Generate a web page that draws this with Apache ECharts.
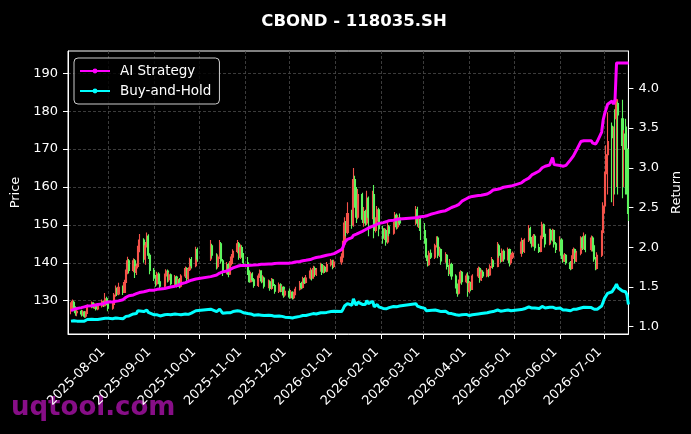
<!DOCTYPE html>
<html>
<head>
<meta charset="utf-8">
<title>CBOND - 118035.SH</title>
<script src="https://cdn.jsdelivr.net/npm/echarts@6/dist/echarts.min.js"></script>
<style>
  html, body { margin: 0; padding: 0; background: #000; }
  #chart { width: 691px; height: 434px; }
</style>
</head>
<body>
<div id="chart"></div>
<script>
// trading days per month (exchange holidays left out)
const tradingDays = [
  ['2025-07', [7, 8, 9, 10, 11, 14, 15, 16, 17, 18, 21, 22, 23, 24, 25, 28, 29, 30, 31]],
  ['2025-08', [1, 4, 5, 6, 7, 8, 11, 12, 13, 14, 15, 18, 19, 20, 21, 22, 25, 26, 27, 28, 29]],
  ['2025-09', [1, 2, 3, 4, 5, 8, 9, 10, 11, 12, 15, 16, 17, 18, 19, 22, 23, 24, 25, 26, 29, 30]],
  ['2025-10', [9, 10, 13, 14, 15, 16, 17, 20, 21, 22, 23, 24, 27, 28, 29, 30, 31]],
  ['2025-11', [3, 4, 5, 6, 7, 10, 11, 12, 13, 14, 17, 18, 19, 20, 21, 24, 25, 26, 27, 28]],
  ['2025-12', [1, 2, 3, 4, 5, 8, 9, 10, 11, 12, 15, 16, 17, 18, 19, 22, 23, 24, 25, 26, 29, 30, 31]],
  ['2026-01', [5, 6, 7, 8, 9, 12, 13, 14, 15, 16, 19, 20, 21, 22, 23, 26, 27, 28, 29, 30]],
  ['2026-02', [2, 3, 4, 5, 6, 9, 10, 11, 12, 13, 24, 25, 26, 27]],
  ['2026-03', [2, 3, 4, 5, 6, 9, 10, 11, 12, 13, 16, 17, 18, 19, 20, 23, 24, 25, 26, 27, 30, 31]],
  ['2026-04', [1, 2, 3, 7, 8, 9, 10, 13, 14, 15, 16, 17, 20, 21, 22, 23, 24, 27, 28, 29, 30]],
  ['2026-05', [6, 7, 8, 11, 12, 13, 14, 15, 18, 19, 20, 21, 22, 25, 26, 27, 28, 29]],
  ['2026-06', [1, 2, 3, 4, 5, 8, 9, 10, 11, 12, 15, 16, 17, 18, 22, 23, 24, 25, 26, 29, 30]],
  ['2026-07', [1, 2, 3, 6, 7, 8, 9, 10, 13, 14, 15, 16, 17]]
];

const monthTicks = ['2025-08-01', '2025-09-01', '2025-10-01', '2025-11-01', '2025-12-01', '2026-01-01',
  '2026-02-01', '2026-03-01', '2026-04-01', '2026-05-01', '2026-06-01', '2026-07-01'];
const priceTicks = [130, 140, 150, 160, 170, 180, 190];
const returnTicks = [1.0, 1.5, 2.0, 2.5, 3.0, 3.5, 4.0];

// [open, close, low, high]
const ohlc = [
  // 2025-07
  [127.5, 128.5, 126.4, 129.6], [128.5, 129.8, 127.8, 130.3], [129.6, 128.0, 127.2, 130.0], [128.0, 126.8, 126.0, 128.5],
  [126.8, 127.2, 125.9, 127.9], [127.2, 126.5, 125.8, 127.6], [126.5, 127.0, 126.0, 127.5], [127.0, 125.9, 125.5, 127.3],
  [125.9, 126.8, 125.5, 127.2], [126.8, 128.6, 126.5, 129.0], [128.6, 129.4, 128.0, 129.8], [129.4, 128.3, 127.9, 129.6],
  [128.3, 128.9, 127.8, 129.3], [128.9, 127.8, 127.4, 129.1], [127.8, 128.6, 127.5, 129.0], [128.6, 129.8, 128.2, 130.3],
  [129.8, 128.7, 128.3, 130.0], [128.7, 130.5, 128.5, 132.0], [130.5, 129.2, 128.8, 131.0],
  // 2025-08
  [129.2, 128.0, 127.2, 129.6], [128.0, 129.0, 127.6, 129.5], [129.0, 131.5, 128.8, 132.0], [131.5, 133.0, 131.0, 134.0],
  [133.0, 131.8, 131.2, 133.5], [131.8, 133.5, 131.4, 134.7], [133.5, 132.2, 131.5, 134.0], [132.2, 134.8, 132.0, 135.5],
  [134.8, 137.5, 134.5, 138.2], [137.5, 140.5, 137.0, 141.6], [140.5, 138.0, 137.2, 141.0], [138.0, 140.5, 137.5, 141.2],
  [140.5, 137.5, 136.0, 141.0], [137.5, 139.0, 136.8, 139.8], [139.0, 143.5, 138.5, 144.5], [143.5, 146.0, 142.8, 147.6],
  [146.0, 141.0, 140.0, 146.5], [141.0, 144.5, 139.5, 145.5], [144.5, 147.0, 144.0, 148.0], [147.0, 142.0, 141.0, 147.5],
  [142.0, 138.0, 137.0, 142.5],
  // 2025-09
  [138.0, 136.0, 135.2, 138.6], [136.0, 134.5, 133.7, 136.8], [134.5, 137.0, 134.0, 137.6], [137.0, 135.0, 134.3, 137.5],
  [135.0, 133.8, 133.2, 135.6], [133.8, 136.5, 133.5, 137.2], [136.5, 137.8, 136.0, 138.3], [137.8, 135.5, 134.8, 138.2],
  [135.5, 136.8, 135.0, 137.5], [136.8, 134.5, 134.0, 137.2], [134.5, 136.2, 134.0, 136.8], [136.2, 134.0, 133.5, 136.6],
  [134.0, 135.5, 133.6, 136.0], [135.5, 133.8, 133.3, 136.0], [133.8, 136.5, 133.5, 137.0], [136.5, 138.5, 136.0, 139.0],
  [138.5, 135.8, 135.0, 138.8], [135.8, 138.2, 135.3, 138.8], [138.2, 140.8, 137.8, 141.3], [140.8, 139.2, 138.5, 141.5],
  [139.2, 143.5, 138.8, 144.2], [143.5, 141.0, 140.3, 144.0],
  // 2025-10
  [141.0, 144.5, 140.5, 146.0], [144.5, 142.0, 141.2, 145.0], [142.0, 139.0, 138.2, 142.5], [139.0, 141.5, 138.5, 142.2],
  [141.5, 145.0, 141.0, 146.0], [145.0, 140.5, 139.8, 145.5], [140.5, 137.5, 136.5, 141.0], [137.5, 139.5, 137.0, 140.2],
  [139.5, 137.0, 136.2, 140.0], [137.0, 139.8, 136.8, 140.5], [139.8, 141.5, 139.3, 142.3], [141.5, 143.0, 141.0, 143.6],
  [143.0, 145.0, 142.5, 146.0], [145.0, 141.5, 140.8, 145.5], [141.5, 144.0, 141.0, 144.8], [144.0, 142.0, 141.3, 144.6],
  [142.0, 140.0, 139.2, 142.6],
  // 2025-11
  [140.0, 137.5, 136.8, 141.5], [137.5, 135.0, 134.7, 138.0], [135.0, 137.0, 134.8, 137.6], [137.0, 135.5, 135.0, 137.5],
  [135.5, 134.0, 133.4, 136.0], [134.0, 136.5, 133.6, 137.2], [136.5, 137.8, 136.0, 138.2], [137.8, 135.2, 134.6, 138.0],
  [135.2, 136.0, 134.8, 136.7], [136.0, 133.8, 133.2, 136.4], [133.8, 135.0, 133.3, 135.6], [135.0, 133.2, 132.6, 135.4],
  [133.2, 135.5, 132.9, 136.0], [135.5, 134.0, 133.4, 135.8], [134.0, 132.5, 131.8, 134.4], [132.5, 134.2, 132.0, 134.8],
  [134.2, 132.8, 132.2, 134.6], [132.8, 133.5, 132.3, 134.0], [133.5, 131.5, 130.8, 133.8], [131.5, 132.5, 131.0, 133.0],
  // 2025-12
  [132.5, 131.0, 130.5, 133.2], [131.0, 132.2, 130.6, 132.8], [132.2, 130.8, 130.3, 132.5], [130.8, 131.8, 130.4, 132.3],
  [131.8, 133.0, 131.4, 133.7], [133.0, 134.5, 132.7, 135.2], [134.5, 133.5, 133.0, 135.0], [133.5, 135.8, 133.2, 136.3],
  [135.8, 134.8, 134.4, 136.2], [134.8, 136.0, 134.5, 136.8], [136.0, 137.8, 135.6, 138.7], [137.8, 136.0, 135.3, 138.2],
  [136.0, 138.5, 135.8, 139.2], [138.5, 137.0, 136.3, 139.0], [137.0, 138.0, 136.5, 138.6], [138.0, 139.5, 137.6, 140.0],
  [139.5, 137.5, 136.8, 139.8], [137.5, 138.8, 137.2, 139.4], [138.8, 137.8, 137.3, 139.2], [137.8, 139.5, 137.5, 140.2],
  [139.5, 140.5, 139.0, 141.0], [140.5, 139.0, 138.3, 140.8], [139.0, 140.2, 138.6, 140.8],
  // 2026-01
  [140.2, 141.5, 139.5, 142.5], [141.5, 145.0, 141.0, 145.8], [145.0, 150.5, 144.5, 152.0], [150.5, 148.0, 147.0, 151.0],
  [148.0, 153.0, 147.5, 156.0], [153.0, 150.0, 149.0, 154.0], [150.0, 162.0, 149.5, 165.0], [162.0, 156.0, 154.5, 163.0],
  [156.0, 152.0, 150.5, 160.0], [152.0, 158.0, 151.5, 159.5], [158.0, 151.5, 150.5, 158.5], [151.5, 153.5, 149.5, 154.7],
  [153.5, 150.5, 149.8, 154.0], [150.5, 157.0, 150.0, 159.0], [157.0, 152.0, 147.0, 157.5], [152.0, 158.0, 151.5, 159.0],
  [158.0, 148.5, 146.5, 160.5], [148.5, 151.0, 148.0, 152.0], [151.0, 154.0, 150.5, 155.0], [154.0, 149.0, 147.0, 154.5],
  // 2026-02
  [149.0, 146.5, 145.0, 149.8], [146.5, 148.5, 146.0, 149.2], [148.5, 145.5, 144.5, 149.0], [145.5, 149.5, 145.0, 150.5],
  [149.5, 147.8, 147.0, 150.0], [147.8, 150.0, 147.4, 150.8], [150.0, 152.5, 149.6, 153.4], [152.5, 149.5, 148.8, 153.0],
  [149.5, 151.8, 149.0, 152.6], [151.8, 150.5, 150.0, 153.0], [150.5, 154.0, 150.0, 155.0], [154.0, 150.5, 149.5, 154.8],
  [150.5, 151.5, 149.2, 152.2], [151.5, 148.5, 146.0, 152.0],
  // 2026-03
  [148.5, 146.0, 145.0, 150.5], [146.0, 141.5, 140.5, 146.5], [141.5, 139.5, 139.0, 142.0], [139.5, 142.5, 139.2, 143.2],
  [142.5, 141.5, 141.0, 143.5], [141.5, 144.5, 141.0, 145.0], [144.5, 146.5, 144.0, 147.0], [146.5, 142.0, 141.2, 147.0],
  [142.0, 143.5, 141.5, 144.2], [143.5, 140.5, 139.5, 143.8], [140.5, 142.0, 140.0, 142.8], [142.0, 139.0, 138.2, 142.3],
  [139.0, 137.5, 136.5, 139.5], [137.5, 139.5, 137.0, 141.0], [139.5, 136.5, 135.5, 140.0], [136.5, 134.0, 133.2, 137.0],
  [134.0, 132.0, 131.0, 134.5], [132.0, 135.0, 131.6, 135.6], [135.0, 137.5, 134.5, 138.0], [137.5, 135.0, 134.2, 137.8],
  [135.0, 136.5, 134.6, 137.2], [136.5, 132.5, 131.0, 137.5],
  // 2026-04
  [132.5, 134.5, 132.0, 135.2], [134.5, 133.0, 132.5, 135.0], [133.0, 136.5, 132.8, 137.0], [136.5, 138.5, 136.0, 139.0],
  [138.5, 135.5, 134.7, 138.8], [135.5, 137.5, 135.2, 138.2], [137.5, 136.5, 136.0, 138.0], [136.5, 138.0, 136.2, 138.6],
  [138.0, 136.8, 136.2, 138.4], [136.8, 139.0, 136.5, 139.6], [139.0, 140.5, 138.6, 141.5], [140.5, 139.0, 138.4, 141.0],
  [139.0, 144.5, 138.8, 145.5], [144.5, 142.0, 141.3, 145.0], [142.0, 140.5, 140.0, 142.6], [140.5, 143.0, 140.2, 143.8],
  [143.0, 141.0, 140.3, 143.5], [141.0, 143.5, 140.6, 144.0], [143.5, 140.0, 139.0, 143.8], [140.0, 141.5, 139.5, 142.2],
  [141.5, 142.5, 141.0, 143.0],
  // 2026-05
  [142.5, 145.5, 141.6, 146.6], [145.5, 143.0, 142.4, 146.0], [143.0, 146.0, 142.6, 146.5], [146.0, 149.0, 145.5, 150.0],
  [149.0, 146.0, 145.0, 149.5], [146.0, 144.5, 144.0, 146.8], [144.5, 147.0, 144.2, 147.6], [147.0, 144.0, 143.2, 147.5],
  [144.0, 143.0, 142.6, 145.0], [143.0, 146.5, 142.8, 147.2], [146.5, 150.0, 146.0, 150.8], [150.0, 147.5, 146.8, 150.4],
  [147.5, 145.0, 144.0, 148.0], [145.0, 148.5, 144.6, 149.0], [148.5, 146.0, 145.2, 149.0], [146.0, 148.5, 145.6, 149.0],
  [148.5, 145.0, 144.0, 148.8], [145.0, 143.5, 142.6, 145.5],
  // 2026-06
  [143.5, 146.0, 143.0, 147.0], [146.0, 142.0, 141.0, 146.5], [142.0, 140.5, 140.0, 142.5], [140.5, 142.0, 140.2, 142.6],
  [142.0, 140.0, 139.5, 142.3], [140.0, 138.5, 138.0, 140.5], [138.5, 141.5, 138.2, 142.0], [141.5, 143.5, 141.0, 144.0],
  [143.5, 140.5, 139.8, 143.8], [140.5, 142.5, 140.2, 143.2], [142.5, 146.5, 142.0, 147.0], [146.5, 144.0, 143.4, 147.0],
  [144.0, 147.0, 143.6, 148.0], [147.0, 143.5, 142.8, 147.5], [143.5, 146.5, 143.0, 147.2], [146.5, 144.5, 143.0, 147.0],
  [144.5, 141.0, 140.3, 145.0], [141.0, 138.5, 138.0, 141.5], [138.5, 142.0, 138.2, 142.8], [142.0, 148.0, 141.5, 148.6],
  [148.0, 155.0, 147.5, 156.0],
  // 2026-07
  [155.0, 163.5, 153.0, 164.0], [163.5, 168.5, 160.0, 171.0], [168.5, 172.0, 158.0, 179.7], [176.0, 173.0, 156.0, 177.0],
  [168.0, 175.5, 155.0, 176.0], [180.0, 179.0, 158.0, 180.5], [178.0, 183.0, 160.0, 183.3], [182.0, 179.0, 158.0, 182.5],
  [178.0, 171.0, 157.0, 183.0], [171.0, 172.0, 160.0, 175.0], [174.0, 170.0, 158.0, 178.0], [170.0, 166.0, 158.0, 176.0],
  [166.0, 153.0, 151.0, 170.0]
];

const aiStrategy = [
  1.20, 1.21, 1.22, 1.22, 1.23, 1.24, 1.245, 1.25, 1.26, 1.26, 1.265, 1.27, 1.27, 1.275, 1.28, 1.285, 1.29, 1.30, 1.30,
  1.31, 1.31, 1.315, 1.32, 1.32, 1.325, 1.34, 1.355, 1.37, 1.385, 1.39, 1.40, 1.41, 1.415, 1.425, 1.43, 1.44, 1.45, 1.45, 1.455, 1.46,
  1.46, 1.465, 1.47, 1.47, 1.475, 1.48, 1.49, 1.49, 1.50, 1.50, 1.51, 1.515, 1.52, 1.53, 1.54, 1.555, 1.56, 1.57, 1.58, 1.585, 1.60, 1.605,
  1.63, 1.64, 1.65, 1.66, 1.675, 1.685, 1.69, 1.70, 1.71, 1.72, 1.73, 1.74, 1.76, 1.765, 1.77, 1.77, 1.77,
  1.77, 1.77, 1.772, 1.775, 1.775, 1.78, 1.78, 1.785, 1.785, 1.785, 1.79, 1.79, 1.79, 1.795, 1.795, 1.80, 1.80, 1.80, 1.80, 1.80,
  1.80, 1.80, 1.805, 1.81, 1.815, 1.82, 1.825, 1.83, 1.83, 1.835, 1.845, 1.85, 1.86, 1.865, 1.87, 1.88, 1.885, 1.89, 1.895, 1.90, 1.91, 1.915, 1.92,
  1.97, 2.00, 2.06, 2.07, 2.10, 2.12, 2.15, 2.16, 2.165, 2.18, 2.20, 2.21, 2.22, 2.23, 2.24, 2.265, 2.27, 2.28, 2.29, 2.30,
  2.31, 2.315, 2.32, 2.33, 2.335, 2.34, 2.345, 2.35, 2.35, 2.355, 2.37, 2.375, 2.38, 2.385,
  2.39, 2.395, 2.40, 2.41, 2.415, 2.43, 2.435, 2.44, 2.44, 2.45, 2.46, 2.47, 2.48, 2.49, 2.50, 2.52, 2.53, 2.54, 2.56, 2.58, 2.61, 2.625,
  2.63, 2.635, 2.64, 2.65, 2.65, 2.655, 2.66, 2.67, 2.68, 2.69, 2.71, 2.72, 2.73, 2.735, 2.74, 2.75, 2.755, 2.765, 2.75, 2.77, 2.775,
  2.81, 2.82, 2.84, 2.87, 2.89, 2.91, 2.92, 2.93, 2.96, 2.98, 3.00, 3.01, 3.02, 3.035, 3.04, 3.13, 3.04, 3.03,
  3.03, 3.025, 3.02, 3.025, 3.03, 3.10, 3.12, 3.15, 3.17, 3.22, 3.33, 3.34, 3.34, 3.345, 3.34, 3.31, 3.30, 3.30, 3.33, 3.45, 3.60,
  3.68, 3.74, 3.80, 3.84, 3.80, 3.86, 4.32, 4.32, 4.32, 4.32, 4.32, 4.32, 4.32
];

const buyAndHold = [
  1.07, 1.08, 1.075, 1.07, 1.07, 1.07, 1.075, 1.07, 1.08, 1.09, 1.095, 1.09, 1.09, 1.085, 1.09, 1.10, 1.095, 1.105, 1.10,
  1.105, 1.10, 1.105, 1.11, 1.10, 1.105, 1.10, 1.115, 1.13, 1.14, 1.135, 1.16, 1.15, 1.165, 1.20, 1.22, 1.19, 1.20, 1.21, 1.18, 1.16,
  1.15, 1.14, 1.15, 1.14, 1.135, 1.15, 1.17, 1.155, 1.165, 1.15, 1.16, 1.15, 1.155, 1.145, 1.15, 1.16, 1.14, 1.155, 1.175, 1.17, 1.20, 1.19,
  1.22, 1.21, 1.19, 1.20, 1.22, 1.195, 1.17, 1.175, 1.165, 1.175, 1.185, 1.19, 1.20, 1.185, 1.195, 1.185, 1.175,
  1.165, 1.155, 1.16, 1.155, 1.145, 1.15, 1.155, 1.145, 1.15, 1.14, 1.145, 1.135, 1.14, 1.135, 1.13, 1.135, 1.125, 1.13, 1.12, 1.12,
  1.115, 1.12, 1.11, 1.115, 1.12, 1.13, 1.125, 1.14, 1.135, 1.14, 1.155, 1.145, 1.165, 1.155, 1.16, 1.175, 1.165, 1.175, 1.17, 1.18, 1.19, 1.185, 1.195,
  1.19, 1.22, 1.26, 1.25, 1.29, 1.27, 1.35, 1.30, 1.27, 1.31, 1.28, 1.29, 1.28, 1.33, 1.29, 1.32, 1.25, 1.26, 1.28, 1.25,
  1.23, 1.245, 1.225, 1.25, 1.24, 1.255, 1.275, 1.25, 1.27, 1.26, 1.29, 1.26, 1.27, 1.245,
  1.23, 1.20, 1.19, 1.205, 1.20, 1.21, 1.22, 1.20, 1.205, 1.19, 1.195, 1.18, 1.17, 1.18, 1.165, 1.15, 1.135, 1.145, 1.16, 1.15, 1.155, 1.135,
  1.14, 1.135, 1.15, 1.16, 1.155, 1.165, 1.165, 1.175, 1.17, 1.185, 1.195, 1.19, 1.21, 1.20, 1.195, 1.205, 1.20, 1.21, 1.195, 1.20, 1.205,
  1.215, 1.21, 1.225, 1.25, 1.24, 1.235, 1.245, 1.235, 1.23, 1.24, 1.255, 1.245, 1.235, 1.245, 1.24, 1.245, 1.235, 1.23,
  1.235, 1.22, 1.21, 1.215, 1.21, 1.20, 1.21, 1.22, 1.21, 1.22, 1.235, 1.23, 1.245, 1.23, 1.24, 1.235, 1.22, 1.20, 1.22, 1.26, 1.31,
  1.36, 1.39, 1.42, 1.44, 1.47, 1.50, 1.535, 1.49, 1.45, 1.46, 1.44, 1.40, 1.28
];

const dates = [];
tradingDays.forEach(([month, days]) => {
  days.forEach(d => dates.push(month + '-' + String(d).padStart(2, '0')));
});

// dates as local-midnight timestamps, drawn on a numeric x axis
const toTime = s => new Date(s + 'T00:00:00').getTime();
const times = dates.map(toTime);
const fmtDate = v => {
  const d = new Date(v);
  return d.getFullYear() + '-' + String(d.getMonth() + 1).padStart(2, '0') + '-' + String(d.getDate()).padStart(2, '0');
};

const fontFamily = 'DejaVu Sans';
const gridLine = { show: true, lineStyle: { color: '#4a4a4a', type: [3, 2], width: 0.8 } };

const chart = echarts.init(document.getElementById('chart'));
chart.setOption({
  backgroundColor: '#000',
  animation: false,
  textStyle: { fontFamily: fontFamily },
  title: {
    text: 'CBOND - 118035.SH',
    left: 349,
    top: 8,
    textAlign: 'center',
    textStyle: { color: '#fff', fontSize: 16.5, fontWeight: 'bold', fontFamily: fontFamily }
  },
  legend: {
    data: ['AI Strategy', 'Buy-and-Hold'],
    orient: 'vertical',
    left: 74,
    top: 58,
    padding: [6, 8, 6, 5],
    itemWidth: 30,
    itemHeight: 6,
    itemGap: 6,
    backgroundColor: 'rgba(0,0,0,0.8)',
    borderColor: '#cccccc',
    borderWidth: 1,
    borderRadius: 4,
    textStyle: { color: '#fff', fontSize: 13.5, fontFamily: fontFamily, padding: [0, 0, 0, 5] }
  },
  grid: {
    left: 68, right: 61, top: 51, bottom: 100,
    show: true, borderColor: '#fff', borderWidth: 1, backgroundColor: '#000'
  },
  xAxis: {
    type: 'value',
    min: toTime('2025-07-05'),
    max: toTime('2026-07-17'),
    axisLine: { lineStyle: { color: '#fff', width: 1 } },
    axisTick: { show: true, customValues: monthTicks.map(toTime), length: 5, lineStyle: { color: '#fff' } },
    axisLabel: {
      customValues: monthTicks.map(toTime),
      rotate: 45,
      margin: 11,
      padding: [0, 7, 0, 0],
      color: '#fff',
      fontSize: 13,
      formatter: fmtDate
    },
    splitLine: gridLine
  },
  yAxis: [
    {
      type: 'value',
      min: 121.2,
      max: 195.9,
      name: 'Price',
      nameLocation: 'middle',
      nameGap: 45,
      nameRotate: 90,
      nameTextStyle: { color: '#fff', fontSize: 13 },
      axisLine: { show: true, lineStyle: { color: '#fff' } },
      axisTick: { show: true, customValues: priceTicks, length: 5, lineStyle: { color: '#fff' } },
      axisLabel: { customValues: priceTicks, color: '#fff', fontSize: 13, margin: 10 },
      splitLine: gridLine
    },
    {
      type: 'value',
      position: 'right',
      min: 0.908,
      max: 4.47,
      name: 'Return',
      nameLocation: 'middle',
      nameGap: 36,
      nameRotate: 90,
      nameTextStyle: { color: '#fff', fontSize: 13 },
      axisLine: { show: true, lineStyle: { color: '#fff' } },
      axisTick: { show: true, customValues: returnTicks, length: 5, lineStyle: { color: '#fff' } },
      axisLabel: { customValues: returnTicks, color: '#fff', fontSize: 13, margin: 10, formatter: v => v.toFixed(1) },
      splitLine: { show: false }
    }
  ],
  series: [
    {
      name: 'Price',
      type: 'candlestick',
      data: times.map((t, i) => [t].concat(ohlc[i])),
      barWidth: 1.6,
      itemStyle: {
        color: '#f4524a', color0: '#5ef55e',
        borderColor: '#f4524a', borderColor0: '#5ef55e',
        borderWidth: 1.1
      },
      z: 2
    },
    {
      name: 'AI Strategy',
      type: 'line',
      yAxisIndex: 1,
      data: times.map((t, i) => [t, aiStrategy[i]]),
      showSymbol: false,
      symbol: 'circle',
      lineStyle: { color: '#ff00ff', width: 3 },
      itemStyle: { color: '#ff00ff' },
      z: 5
    },
    {
      name: 'Buy-and-Hold',
      type: 'line',
      yAxisIndex: 1,
      data: times.map((t, i) => [t, buyAndHold[i]]),
      showSymbol: false,
      symbol: 'circle',
      lineStyle: { color: '#00ffff', width: 3 },
      itemStyle: { color: '#00ffff' },
      z: 5
    }
  ],
  graphic: [
    {
      type: 'text',
      left: 11,
      top: 395,
      z: -1,
      style: { text: 'uqtool.com', font: 'bold 26px "DejaVu Sans"', fill: 'rgba(150, 16, 150, 0.9)' }
    }
  ]
});
</script>
</body>
</html>
